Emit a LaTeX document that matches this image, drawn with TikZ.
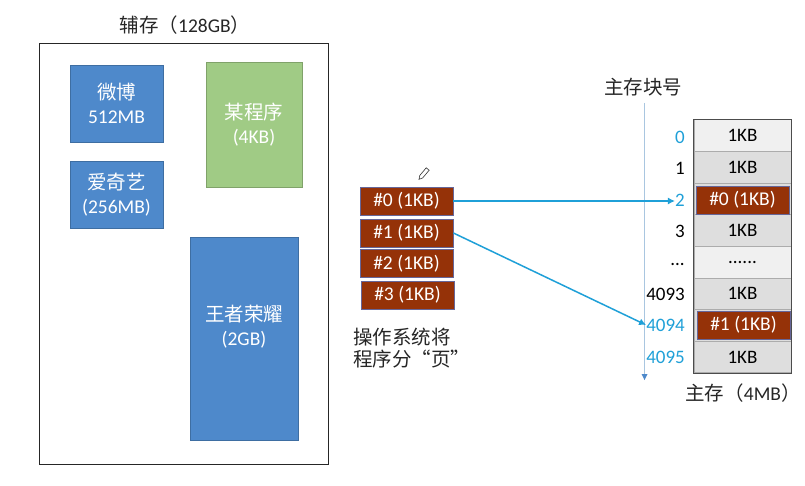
\documentclass[tikz,border=0pt]{standalone}
\usepackage{fontspec}
\setmainfont{Carlito}
\newfontfamily\cjk{Noto Sans CJK SC}
\usetikzlibrary{arrows.meta}
\definecolor{blueb}{HTML}{4E89CB}
\definecolor{greenb}{HTML}{A0CB85}
\definecolor{redb}{HTML}{953208}
\definecolor{cyanb}{HTML}{1FA0D8}
\definecolor{rowa}{HTML}{F0F0F0}
\definecolor{rowb}{HTML}{DEDEDE}
\definecolor{axisb}{HTML}{A9C6E0}
\definecolor{txt}{HTML}{262626}
\tikzset{
  box/.style={draw=#1!80!black, line width=0.7pt, fill=#1, text=white, inner sep=0pt, font=\fontsize{19.5}{24}\selectfont, align=center},
  pagebox/.style={draw=gray!80!blue, line width=0.8pt, fill=redb, text=white, inner sep=0pt, minimum width=93pt, minimum height=28pt, font=\fontsize{19.5}{22}\selectfont},
  rowbox/.style={draw=gray!65, line width=1pt, fill=#1, text=black, inner sep=0pt, minimum width=97pt, minimum height=31.6pt, font=\fontsize{19}{22}\selectfont},
  numlab/.style={anchor=east, inner sep=0pt, font=\fontsize{19}{22}\selectfont},
  captext/.style={text=txt, inner sep=0pt, font=\fontsize{19.5}{22}\selectfont, align=left},
  link/.style={draw=cyanb, line width=1.5pt, -{Latex[length=7pt,width=7pt]}},
}
\begin{document}
\begin{tikzpicture}[x=1pt,y=-1pt]
\useasboundingbox (0,0) rectangle (805,486);
\fill[white] (0,0) rectangle (805,486);
% secondary storage
\node[draw=black!85, line width=0.9pt, minimum width=289pt, minimum height=421pt, inner sep=0pt] (disk) at (183.5,253.5) {};
\node[captext] (disklab) at (185,25) {{\cjk 辅存（}128GB{\cjk ）}};
\node[box=blueb, minimum width=93pt, minimum height=77pt] (weibo) at (116.5,103.5) {{\cjk 微博}\\512MB};
\node[box=blueb, minimum width=93pt, minimum height=67pt] (iqiyi) at (116.5,194.5) {{\cjk 爱奇艺}\\(256MB)};
\node[box=greenb, minimum width=96pt, minimum height=125pt] (prog) at (254,124.5) {{\cjk 某程序}\\(4KB)};
\node[box=blueb, minimum width=108pt, minimum height=203pt] (honor) at (244,338.5) {};
\node[box=blueb, draw=none, fill=none] (honortxt) at (244,327) {{\cjk 王者荣耀}\\(2GB)};
% pages
\node[pagebox] (p0) at (406.5,201) {\#0 (1KB)};
\node[pagebox] (p1) at (406.5,233) {\#1 (1KB)};
\node[pagebox] (p2) at (406.5,263.5) {\#2 (1KB)};
\node[pagebox] (p3) at (407.5,295) {\#3 (1KB)};
\node[captext, anchor=north west] (oslab) at (353,327.5) {{\cjk 操作系统将}\\{\cjk 程序分“页”}};
% pencil
\begin{scope}[shift={(423.5,174)},rotate=50]
\draw[black!80, line width=0.6pt, fill=white] (-7,0) -- (-3.5,-1.9) -- (6.5,-1.9) -- (6.5,1.9) -- (-3.5,1.9) -- cycle;
\end{scope}
% memory
\node[rowbox=rowa] (m0) at (742.5,135.8) {1KB};
\node[rowbox=rowb] (m1) at (742.5,167.4) {1KB};
\node[rowbox=rowb] (m2) at (742.5,199) {};
\node[rowbox=rowb] (m3) at (742.5,230.6) {1KB};
\node[rowbox=rowa] (m4) at (742.5,262.2) {......};
\node[rowbox=rowb] (m5) at (742.5,293.8) {1KB};
\node[rowbox=rowb] (m6) at (742.5,325.4) {};
\node[rowbox=rowb] (m7) at (742.5,357) {1KB};
\draw[black!70, line width=1pt] (m0.north west) rectangle (m7.south east);
\node[pagebox] (q0) at (742.5,200) {\#0 (1KB)};
\node[pagebox] (q1) at (743.5,325) {\#1 (1KB)};
\node[captext] (memlab) at (743,393) {{\cjk 主存（}4MB{\cjk ）}};
% numbers
\node[numlab, text=cyanb] (n0) at (685,137) {0};
\node[numlab] (n1) at (685,168) {1};
\node[numlab, text=cyanb] (n2) at (685,200) {2};
\node[numlab] (n3) at (685,231) {3};
\node[numlab] (ndots) at (685,264) {...};
\node[numlab] (n4093) at (685,294) {4093};
\node[numlab, text=cyanb] (n4094) at (685,325) {4094};
\node[numlab, text=cyanb] (n4095) at (685,357) {4095};
% axis
\node[captext] (axislab) at (643,87) {{\cjk 主存块号}};
\coordinate (axtop) at (644.5,103);
\coordinate (axbot) at (644.5,380);
\draw[draw=axisb, line width=1pt] (axtop) -- (axbot);
\fill[blueb] (axbot) -- ++(-3,-6) -- ++(6,0) -- cycle;
% links
\draw[link] (p0.east) -- (n2.west |- p0.east);
\draw[link] (p1.east) -- (n4094.west);
\end{tikzpicture}
\end{document}
